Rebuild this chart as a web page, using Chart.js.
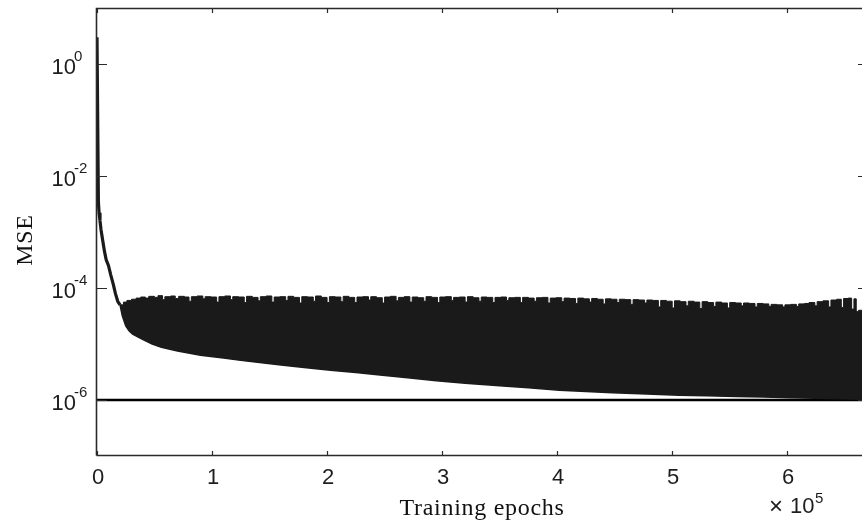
<!DOCTYPE html>
<html>
<head>
<meta charset="utf-8">
<script src="https://cdn.jsdelivr.net/npm/chart.js@4.4.1/dist/chart.umd.min.js"></script>
<style>
  html, body { margin: 0; padding: 0; background: #fff; overflow: hidden; }
  #wrap { width: 862px; height: 526px; position: relative; }
</style>
</head>
<body>
<div id="wrap"><canvas id="c" width="862" height="526"></canvas></div>
<script>
// ---- data ----
const descentEpochs = [0, 1200, 1800, 2600, 3500, 5000, 6500, 8000, 10000, 12000, 14000, 16000, 18000, 20000];
const descentMSE    = [3, 3.5e-3, 2.2e-3, 1.6e-3, 1.1e-3, 7e-4, 4.5e-4, 3.2e-4, 2.5e-4, 1.7e-4, 1.2e-4, 8e-5, 5.8e-5, 5e-5];

const upperEpochsK = [20,23,26,30,34,38,42,45,50,53,57,59,64,68,71,76,80,82,87,92,94,99,104,106,111,116,118,123,128,130,135,140,142,147,152,154,159,164,166,171,176,178,183,188,190,195,200,202,207,212,214,219,224,226,231,236,238,243,248,250,255,260,262,267,272,274,279,284,286,291,296,298,303,308,310,315,320,322,327,332,334,339,344,346,351,356,358,363,368,370,375,380,382,387,392,394,399,404,406,411,416,418,423,428,430,435,440,442,447,452,454,459,464,466,471,476,478,483,488,490,495,500,502,507,512,514,519,524,526,531,536,538,543,548,550,555,560,562,567,572,574,579,584,586,591,596,598,603,608,610,615,619,624,626,631,636,638,643,647,649,653,656,658,660,662,665];
const upperMSE = [5.0e-5,5.6e-5,6.0e-5,6.3e-5,6.6e-5,6.9e-5,6.6e-5,7.1e-5,6.8e-5,7.3e-5,6.2e-5,7.0e-5,7.2e-5,6.5e-5,7.1e-5,6.9e-5,5.8e-5,7.0e-5,7.2e-5,6.4e-5,7.0e-5,6.9e-5,5.6e-5,7.0e-5,7.2e-5,6.2e-5,7.0e-5,6.9e-5,5.5e-5,7.1e-5,6.8e-5,5.9e-5,7.0e-5,7.2e-5,5.6e-5,6.9e-5,7.0e-5,6.0e-5,7.1e-5,6.8e-5,5.4e-5,7.0e-5,6.9e-5,5.8e-5,7.2e-5,6.8e-5,5.5e-5,7.0e-5,6.9e-5,5.7e-5,7.1e-5,6.8e-5,5.5e-5,6.9e-5,7.0e-5,6.1e-5,7.0e-5,6.7e-5,5.4e-5,6.9e-5,7.1e-5,5.9e-5,6.8e-5,7.0e-5,5.6e-5,6.9e-5,6.7e-5,5.8e-5,7.0e-5,6.8e-5,5.5e-5,6.9e-5,7.0e-5,6.0e-5,6.8e-5,6.9e-5,5.6e-5,7.0e-5,6.7e-5,5.8e-5,6.9e-5,6.8e-5,5.5e-5,6.8e-5,6.9e-5,6.0e-5,6.7e-5,6.8e-5,5.5e-5,6.8e-5,6.6e-5,5.8e-5,6.7e-5,6.8e-5,5.4e-5,6.6e-5,6.7e-5,5.7e-5,6.6e-5,6.5e-5,5.3e-5,6.6e-5,6.4e-5,5.6e-5,6.5e-5,6.3e-5,5.2e-5,6.4e-5,6.3e-5,5.5e-5,6.3e-5,6.2e-5,5.1e-5,6.2e-5,6.1e-5,5.4e-5,6.1e-5,6.0e-5,4.6e-5,6.0e-5,5.8e-5,4.4e-5,5.9e-5,5.7e-5,4.8e-5,5.8e-5,5.6e-5,4.3e-5,5.7e-5,5.5e-5,4.7e-5,5.6e-5,5.4e-5,4.4e-5,5.5e-5,5.4e-5,4.8e-5,5.4e-5,5.3e-5,4.6e-5,5.3e-5,5.2e-5,4.7e-5,5.1e-5,5.0e-5,4.6e-5,5.0e-5,5.1e-5,4.7e-5,5.2e-5,5.3e-5,5.5e-5,4.8e-5,5.7e-5,5.9e-5,4.6e-5,6.1e-5,6.3e-5,4.5e-5,6.5e-5,6.6e-5,4.2e-5,6.4e-5,3.8e-5,4.0e-5,4.0e-5];

const lowerEpochsK = [20,22,25,28,31,35,40,48,56,70,90,110,125,145,160,180,203,225,246,270,295,320,350,375,402,425,448,478,506,530,556,580,602,624,645,665];
const lowerMSE = [5.0e-5,3.2e-5,2.1e-5,1.7e-5,1.5e-5,1.35e-5,1.2e-5,1.0e-5,8.7e-6,7.5e-6,6.3e-6,5.6e-6,5.1e-6,4.6e-6,4.2e-6,3.8e-6,3.4e-6,3.1e-6,2.8e-6,2.5e-6,2.2e-6,2.0e-6,1.8e-6,1.65e-6,1.5e-6,1.42e-6,1.35e-6,1.28e-6,1.22e-6,1.19e-6,1.16e-6,1.13e-6,1.1e-6,1.08e-6,1.05e-6,1.03e-6];

const goalEpochs = [0, 665000];
const goalMSE = [1e-6, 1e-6];

const xTickValues = [0, 100000, 200000, 300000, 400000, 500000, 600000];
const xTickLabels = ['0', '1', '2', '3', '4', '5', '6'];
const xMultiplierExp = '5';
const yTickValues = [1, 1e-2, 1e-4, 1e-6];
const yTickExps = ['0', '-2', '-4', '-6'];
const xTitle = 'Training epochs';
const yTitle = 'MSE';

// ---- build ----
const pts = (xs, ys, k) => xs.map((v, i) => ({ x: v * (k || 1), y: ys[i] }));
const INK = '#1a1a1a';
const SANS = '"Liberation Sans", Arial, sans-serif';
const SERIF = '"Liberation Serif", "Times New Roman", serif';

const axesPlugin = {
  id: 'matlabAxes',
  afterDraw(chart) {
    const { ctx, chartArea: a, scales } = chart;
    const sx = scales.x, sy = scales.y;
    ctx.save();
    ctx.strokeStyle = '#2a2a2a';
    ctx.lineWidth = 1.6;
    ctx.beginPath();
    ctx.moveTo(a.left - 0.5, a.bottom - 0.5);
    ctx.lineTo(a.left - 0.5, a.top + 0.5);
    ctx.lineTo(a.right + 2, a.top + 0.5);
    ctx.moveTo(a.left - 0.5, a.bottom - 0.5);
    ctx.lineTo(a.right + 2, a.bottom - 0.5);
    ctx.stroke();
    ctx.lineWidth = 1.2;
    ctx.beginPath();
    xTickValues.forEach(v => {
      const px = Math.round(sx.getPixelForValue(v)) + 0.5;
      ctx.moveTo(px, a.bottom); ctx.lineTo(px, a.bottom - 5);
      ctx.moveTo(px, a.top); ctx.lineTo(px, a.top + 5);
    });
    yTickValues.forEach(v => {
      const py = Math.round(sy.getPixelForValue(v)) + 0.5;
      ctx.moveTo(a.left, py); ctx.lineTo(a.left + 10, py);
      ctx.moveTo(a.right, py); ctx.lineTo(a.right - 4, py);
    });
    ctx.stroke();

    ctx.fillStyle = '#1e1e1e';
    ctx.font = '22px ' + SANS;
    ctx.textBaseline = 'alphabetic';
    ctx.textAlign = 'center';
    xTickValues.forEach((v, i) => {
      ctx.fillText(xTickLabels[i], sx.getPixelForValue(v) + 1, 484);
    });
    yTickValues.forEach((v, i) => {
      const py = sy.getPixelForValue(v);
      ctx.textAlign = 'right';
      ctx.font = '22px ' + SANS;
      ctx.fillText('10', 76, py + 10);
      ctx.textAlign = 'left';
      ctx.font = '15px ' + SANS;
      ctx.fillText(yTickExps[i], 74, py - 3);
    });
    // multiplier
    ctx.textAlign = 'left';
    ctx.font = '24px ' + SANS;
    ctx.fillText('\u00d7', 769, 514);
    ctx.font = '22px ' + SANS;
    ctx.fillText('10', 790, 513);
    ctx.font = '15px ' + SANS;
    ctx.fillText(xMultiplierExp, 815, 503);
    // titles
    ctx.fillStyle = '#111';
    ctx.font = '24px ' + SERIF;
    ctx.textAlign = 'center';
    try { ctx.letterSpacing = '0.7px'; } catch (e) {}
    ctx.fillText(xTitle, 482, 515);
    ctx.translate(32, 240);
    ctx.rotate(-Math.PI / 2);
    ctx.fillText(yTitle, 0, 0);
    ctx.restore();
  }
};

new Chart(document.getElementById('c'), {
  type: 'line',
  data: {
    datasets: [
      { data: pts(descentEpochs, descentMSE), borderColor: INK, borderWidth: 3.2, fill: false, tension: 0 },
      { data: pts(upperEpochsK, upperMSE, 1000), borderColor: INK, backgroundColor: INK, borderWidth: 1, stepped: true, fill: '+1' },
      { data: pts(lowerEpochsK, lowerMSE, 1000), borderColor: INK, borderWidth: 1.5, fill: false, tension: 0 },
      { data: pts(goalEpochs, goalMSE), borderColor: '#000', borderWidth: 2.5, fill: false }
    ]
  },
  options: {
    responsive: false,
    animation: false,
    devicePixelRatio: 1,
    layout: { padding: { left: 97, top: 8, right: 0, bottom: 70 } },
    elements: { point: { radius: 0, hoverRadius: 0 }, line: { capBezierPoints: false } },
    plugins: { legend: { display: false }, tooltip: { enabled: false } },
    events: [],
    scales: {
      x: { type: 'linear', min: 0, max: 665000, display: false },
      y: { type: 'logarithmic', min: 1e-7, max: 10, display: false }
    }
  },
  plugins: [axesPlugin]
});
</script>
</body>
</html>
